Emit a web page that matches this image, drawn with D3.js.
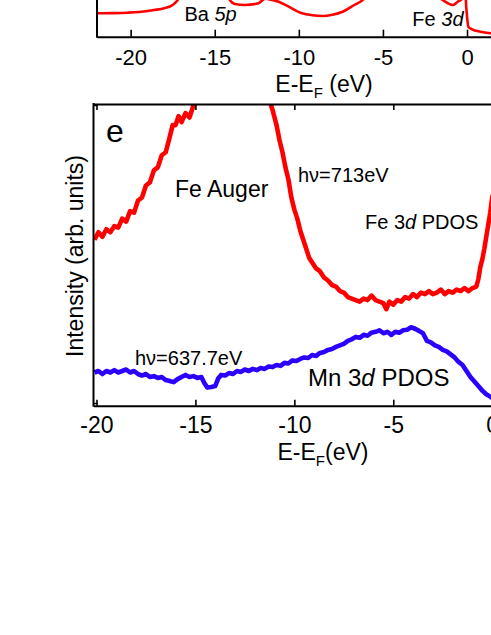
<!DOCTYPE html>
<html><head><meta charset="utf-8">
<script src="https://cdn.jsdelivr.net/npm/d3@7"></script>
<style>
html,body{margin:0;padding:0;background:#fff;}
svg{display:block;font-family:"Liberation Sans",Arial,Helvetica,sans-serif;}
</style></head>
<body>
<svg id="chart" width="491" height="635"></svg>
<script>
// ---- data ----
const xTicks = [-20, -15, -10, -5, 0];

// top panel (valence band, partially visible)
const topEnergy = [-22.0,-21.0,-20.2,-19.5,-18.6,-18.0,-17.5,-17.2,-16.8,-15.5,-14.6,-14.1,-13.8,-13.2,-12.4,-12.0,-11.8,-11.2,-10.6,-9.8,-9.2,-8.6,-8.0,-7.4,-6.7,-6.2,-5.5,-4.0,-2.5,-1.45,-1.13,-0.83,-0.55,-0.3,-0.12,-0.02,0.08,0.3,0.8,1.4,2.0];
const topIntensity = [2.34,2.36,2.40,2.47,2.67,2.85,3.17,3.67,5.0,6.5,6.2,3.67,3.27,3.17,3.34,3.8,3.75,3.5,3.0,2.34,2.15,2.07,2.2,2.5,3.17,3.67,5.0,6.0,5.0,3.67,3.34,3.17,3.5,3.8,4.5,2.4,1.0,0.74,0.5,0.34,0.25];

// panel e : Fe 3d (hv = 713 eV)
const feEnergy = [-20.1,-19.9,-19.7,-19.5,-19.3,-19.1,-18.9,-18.7,-18.5,-18.3,-18.1,-17.9,-17.7,-17.5,-17.3,-17.1,-16.9,-16.7,-16.5,-16.3,-16.15,-16.0,-15.85,-15.7,-15.5,-15.3,-15.1,-14.9,-14.5,-13.0,-11.6,-11.3,-11.1,-10.9,-10.75,-10.6,-10.45,-10.3,-10.15,-10.0,-9.85,-9.7,-9.55,-9.4,-9.25,-9.1,-8.9,-8.7,-8.5,-8.3,-8.1,-7.9,-7.7,-7.5,-7.3,-7.1,-6.9,-6.7,-6.5,-6.3,-6.1,-5.9,-5.7,-5.5,-5.35,-5.2,-5.0,-4.8,-4.6,-4.4,-4.2,-4.0,-3.8,-3.6,-3.4,-3.2,-3.0,-2.8,-2.6,-2.4,-2.2,-2.0,-1.8,-1.6,-1.4,-1.2,-1.0,-0.8,-0.7,-0.6,-0.5,-0.4,-0.3,-0.2,-0.1,0.0,0.2];
const feIntensity = [5.5,5.75,5.6,5.85,5.75,5.95,5.9,6.2,6.1,6.45,6.4,6.8,6.9,7.3,7.4,7.8,7.9,8.3,8.4,8.9,9.3,9.3,9.6,9.4,9.7,9.55,9.95,10.2,10.8,12.0,10.8,10.2,9.8,9.3,8.8,8.4,7.9,7.5,6.9,6.5,6.2,5.8,5.5,5.2,4.9,4.75,4.55,4.45,4.25,4.15,4.0,3.95,3.8,3.75,3.6,3.55,3.5,3.45,3.55,3.5,3.65,3.5,3.45,3.4,3.2,3.45,3.35,3.5,3.45,3.6,3.55,3.7,3.6,3.75,3.7,3.8,3.7,3.75,3.85,3.7,3.8,3.75,3.85,3.8,3.9,3.8,3.9,3.95,4.2,4.6,4.85,5.2,5.6,6.0,6.4,6.9,7.4];

// panel e : Mn 3d (hv = 637.7 eV)
const mnEnergy = [-20.1,-19.9,-19.7,-19.5,-19.3,-19.1,-18.9,-18.7,-18.5,-18.3,-18.1,-17.9,-17.7,-17.5,-17.3,-17.1,-16.9,-16.7,-16.5,-16.3,-16.1,-15.9,-15.7,-15.5,-15.3,-15.1,-14.9,-14.7,-14.55,-14.4,-14.2,-14.0,-13.85,-13.7,-13.5,-13.3,-13.1,-12.9,-12.7,-12.5,-12.3,-12.1,-11.9,-11.7,-11.5,-11.3,-11.1,-10.9,-10.7,-10.5,-10.3,-10.1,-9.9,-9.7,-9.5,-9.3,-9.1,-8.9,-8.7,-8.5,-8.3,-8.1,-7.9,-7.7,-7.5,-7.3,-7.1,-6.9,-6.7,-6.5,-6.3,-6.1,-5.9,-5.7,-5.5,-5.3,-5.1,-4.9,-4.7,-4.5,-4.3,-4.1,-3.9,-3.7,-3.5,-3.3,-3.1,-2.9,-2.7,-2.5,-2.3,-2.1,-1.9,-1.7,-1.5,-1.3,-1.1,-0.9,-0.7,-0.5,-0.3,-0.1,0.1];
const mnIntensity = [1.1,1.15,1.05,1.15,1.1,1.18,1.1,1.15,1.2,1.1,1.15,1.05,1.0,1.05,0.95,0.98,0.92,0.95,0.85,0.82,0.78,0.88,0.95,1.02,0.95,0.98,0.92,0.95,0.75,0.6,0.62,0.65,0.9,1.02,1.0,1.08,1.05,1.15,1.12,1.2,1.15,1.22,1.18,1.25,1.22,1.3,1.28,1.35,1.32,1.42,1.4,1.5,1.48,1.55,1.6,1.58,1.68,1.65,1.75,1.78,1.85,1.88,1.95,2.0,2.05,2.15,2.2,2.28,2.25,2.35,2.32,2.42,2.45,2.5,2.4,2.45,2.35,2.45,2.42,2.5,2.52,2.6,2.55,2.48,2.4,2.15,2.1,2.0,1.95,1.85,1.8,1.7,1.6,1.45,1.35,1.15,0.95,0.8,0.65,0.5,0.38,0.3,0.2];

const labels = {
  top: [{t:"Ba ", it:"5p", x:-16.8, y:1.6, size:20}, {t:"Fe ", it:"3d", x:-3.25, y:1.1, size:20}],
};

// ---- drawing ----
const svg = d3.select("#chart");
svg.append("rect").attr("width",491).attr("height",635).attr("fill","#fff");
const fmt = d => String(d);

// ===== top panel =====
const xTop = d3.scaleLinear().domain([-22, 4]).range([97, 534.3]);
const yTop = d3.scaleLinear().domain([0, 10]).range([36.7, -63.3]);
const topData = topEnergy.map((e,i)=>[e, topIntensity[i]]);
svg.append("path").datum(topData)
  .attr("fill","none").attr("stroke","#ff0000").attr("stroke-width",2.6)
  .attr("stroke-linejoin","round")
  .attr("d", d3.line().x(d=>xTop(d[0])).y(d=>yTop(d[1])).curve(d3.curveMonotoneX));

const axTop = svg.append("g").attr("transform","translate(0,36.7)")
  .call(d3.axisBottom(xTop).tickValues(xTicks).tickSizeInner(-7).tickSizeOuter(0).tickPadding(13).tickFormat(fmt));
axTop.select(".domain").attr("stroke","#000").attr("stroke-width",2);
axTop.selectAll(".tick line").attr("stroke","#000").attr("stroke-width",1.6);
axTop.selectAll("text").attr("font-size",22).attr("fill","#000").attr("font-family","Liberation Sans, Arial, sans-serif");
svg.append("line").attr("x1",97).attr("x2",97).attr("y1",-2).attr("y2",37.7).attr("stroke","#000").attr("stroke-width",2);

function xTitle(x, y, gap){
  const t = svg.append("text").attr("x",x).attr("y",y).attr("text-anchor","middle")
    .attr("font-size",23).attr("fill","#000");
  t.append("tspan").text("E-E");
  t.append("tspan").text("F").attr("font-size",15).attr("dy",6);
  t.append("tspan").text(gap ? " (eV)" : "(eV)").attr("dy",-6);
}
xTitle(324, 92, true);

labels.top.forEach(l=>{
  const t = svg.append("text").attr("x",xTop(l.x)).attr("y",yTop(l.y)).attr("font-size",l.size).attr("fill","#000");
  t.append("tspan").text(l.t);
  t.append("tspan").text(l.it).attr("font-style","italic");
});

// ===== panel e =====
const x = d3.scaleLinear().domain([-20.15, 2]).range([93.5, 531.8]);
const y = d3.scaleLinear().domain([0, 10]).range([405.7, 104]);

svg.append("clipPath").attr("id","clipE").append("rect")
  .attr("x",93.5).attr("y",104).attr("width",450).attr("height",301.7);

const line = d3.line().x(d=>x(d[0])).y(d=>y(d[1]));
const gE = svg.append("g").attr("clip-path","url(#clipE)");
gE.append("path").datum(feEnergy.map((e,i)=>[e, feIntensity[i]]))
  .attr("fill","none").attr("stroke","#ff0000").attr("stroke-width",4.6).attr("stroke-linejoin","round").attr("d", line);
gE.append("path").datum(mnEnergy.map((e,i)=>[e, mnIntensity[i]]))
  .attr("fill","none").attr("stroke","#2b00ff").attr("stroke-width",4.6).attr("stroke-linejoin","round").attr("d", line);

const axB = svg.append("g").attr("transform","translate(0,405.7)")
  .call(d3.axisBottom(x).tickValues(xTicks).tickSizeInner(-6).tickSizeOuter(0).tickPadding(11).tickFormat(fmt));
const axT = svg.append("g").attr("transform","translate(0,104)")
  .call(d3.axisTop(x).tickValues(xTicks.slice(0,4)).tickSizeInner(-6).tickSizeOuter(0).tickFormat(""));
[axB, axT].forEach(a=>{
  a.select(".domain").attr("stroke","#000").attr("stroke-width",2);
  a.selectAll(".tick line").attr("stroke","#000").attr("stroke-width",1.6);
});
axB.selectAll("text").attr("font-size",23).attr("fill","#000").attr("font-family","Liberation Sans, Arial, sans-serif");
svg.append("line").attr("x1",93.5).attr("x2",93.5).attr("y1",103).attr("y2",406.7).attr("stroke","#000").attr("stroke-width",2);
// small y ticks at frame corners
svg.append("line").attr("x1",93.5).attr("x2",98).attr("y1",105.5).attr("y2",105.5).attr("stroke","#000").attr("stroke-width",1.4);
svg.append("line").attr("x1",93.5).attr("x2",98).attr("y1",403.5).attr("y2",403.5).attr("stroke","#000").attr("stroke-width",1.4);

xTitle(323, 460, false);

svg.append("text").attr("transform","translate(83,256) rotate(-90)").attr("text-anchor","middle")
  .attr("font-size",23).attr("fill","#000").text("Intensity (arb. units)");

svg.append("text").attr("x",106).attr("y",142).attr("font-size",32).attr("fill","#000").text("e");
svg.append("text").attr("x",175).attr("y",197).attr("font-size",23).attr("fill","#000").text("Fe Auger");
svg.append("text").attr("x",298).attr("y",182).attr("font-size",20).attr("fill","#000").text("hν=713eV");
const fe = svg.append("text").attr("x",365).attr("y",229).attr("font-size",20).attr("fill","#000");
fe.append("tspan").text("Fe 3");
fe.append("tspan").text("d").attr("font-style","italic");
fe.append("tspan").text(" PDOS");
svg.append("text").attr("x",135).attr("y",365).attr("font-size",20).attr("fill","#000").text("hν=637.7eV");
const mn = svg.append("text").attr("x",308).attr("y",386).attr("font-size",24).attr("fill","#000");
mn.append("tspan").text("Mn 3");
mn.append("tspan").text("d").attr("font-style","italic");
mn.append("tspan").text(" PDOS");
</script>
</body></html>
